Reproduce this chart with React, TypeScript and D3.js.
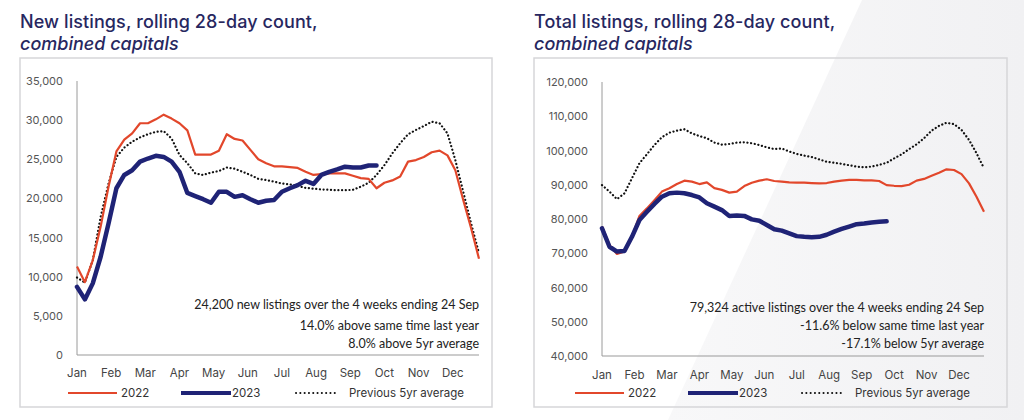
import React from "react";
import * as d3 from "d3";

const months = ["Jan","Feb","Mar","Apr","May","Jun","Jul","Aug","Sep","Oct","Nov","Dec"];

const newYTicks = [0, 5000, 10000, 15000, 20000, 25000, 30000, 35000];
const new2022 = [11300,9300,12100,16400,21500,26000,27500,28300,29600,29600,30100,30700,30200,29600,28700,25600,25600,25600,26100,28200,27600,27400,26200,25000,24500,24100,24100,24000,23900,23400,23000,23100,23200,23200,23200,22900,22600,22500,21300,22000,22300,22800,24700,24900,25300,25900,26100,25500,23600,19800,16200,12300];
const new2023 = [8700,7100,9150,12550,16800,21300,23000,23600,24700,25100,25450,25300,24700,23400,20700,20300,19900,19450,20850,20850,20200,20400,19900,19450,19700,19800,20850,21300,21700,22250,21850,23000,23400,23700,24050,23950,23950,24200,24200];
const new5yr = [9900,9250,12100,17650,21900,25300,26500,27250,27800,28200,28500,28600,27650,25550,24500,23200,23000,23300,23500,23950,23800,23400,23000,22500,22350,22150,21900,21800,21600,21350,21250,21150,21100,21050,21050,21100,21500,22000,23000,24250,25750,27050,28200,28750,29250,29800,29600,28300,24900,20850,16800,13000];

const totYTicks = [40000, 50000, 60000, 70000, 80000, 90000, 100000, 110000, 120000];
const tot2022 = [77800,72400,69800,70500,74800,80900,83100,85500,88000,89000,90200,91200,90900,90200,90700,89000,88500,87700,88000,89600,90600,91200,91600,91100,90900,90700,90600,90600,90500,90400,90500,90900,91200,91400,91400,91300,91300,91100,89900,89700,89600,90000,91200,91700,92600,93500,94500,94300,93100,90400,86500,82100];
const tot2023 = [77300,71900,70500,70650,74800,79700,82100,84400,86500,87500,87700,87500,87000,86300,84600,83600,82600,80900,81000,80900,79900,79500,78250,77000,76600,75800,75000,74800,74650,74800,75400,76300,77100,77800,78500,78700,79000,79200,79324];
const tot5yr = [89900,88000,85800,87500,91900,96300,98900,101600,103900,105200,105800,106200,105000,104200,103600,102300,101700,101900,102300,102400,102100,101600,100900,100400,100600,99700,99000,98500,98100,97400,96700,96400,96100,95700,95300,95100,95300,95800,96400,97700,98900,100400,101800,103600,105800,107200,108100,107700,106000,103100,99200,94800];

const legendLabels = ["2022", "2023", "Previous 5yr average"];

const RED = "#e2472b";
const NAVY = "#1f2376";
const TITLE = "#27275f";

type PanelCfg = {
  boxX: number; boxR: number;
  title1: string; title2: string;
  x0: number; x1: number; yTop: number; yBot: number;
  yTicks: number[]; s2022: number[]; s2023: number[]; s5yr: number[];
  notes: string[]; noteY: number[];
  monthY: number; legendX: number[];
};

function Panel({ c }: { c: PanelCfg }) {
  const x = d3.scaleLinear().domain([0, 51]).range([c.x0, c.x1]);
  const y = d3.scaleLinear().domain([c.yTicks[0], c.yTicks[c.yTicks.length - 1]]).range([c.yBot, c.yTop]);
  const line = d3.line<number>().x((_, i) => x(i)).y((v) => y(v));
  const fmt = d3.format(",");
  const lg = c.legendX;
  const ly = 393;
  return (
    <g>
      <text x={c.boxX} y={28} fontFamily="Inter, sans-serif" fontSize={18} fontWeight={500} letterSpacing={0.1} fill={TITLE}>{c.title1}</text>
      <text x={c.boxX} y={50} fontFamily="Inter, sans-serif" fontSize={18} fontWeight={500} fontStyle="italic" fill={TITLE}>{c.title2}</text>
      <rect x={c.boxX} y={58} width={c.boxR - c.boxX} height={349} fill="none" stroke="#d6d6d9" strokeWidth={1.5} />
      {c.yTicks.map((t) => (
        <text key={t} x={c.x0 - 14} y={y(t) + 4} textAnchor="end" fontFamily="Inter, sans-serif" fontSize={11} fill="#555">{fmt(t)}</text>
      ))}
      <line x1={c.x0} x2={c.x0} y1={c.yTop} y2={c.yBot} stroke="#9a9a9a" strokeWidth={1} />
      <line x1={c.x0} x2={c.x1} y1={c.yBot} y2={c.yBot} stroke="#9a9a9a" strokeWidth={1.2} />
      {months.map((m, i) => (
        <text key={m} x={x((i * 52) / 12)} y={c.monthY} textAnchor="middle" fontFamily="Inter, sans-serif" fontSize={11.5} fill="#444">{m}</text>
      ))}
      <path d={line(c.s5yr) || ""} fill="none" stroke="#111" strokeWidth={2.2} strokeDasharray="0.1 3.6" strokeLinecap="round" />
      <path d={line(c.s2022) || ""} fill="none" stroke={RED} strokeWidth={2.2} strokeLinejoin="round" />
      <path d={line(c.s2023) || ""} fill="none" stroke={NAVY} strokeWidth={4.5} strokeLinejoin="round" strokeLinecap="round" />
      {c.notes.map((n, i) => (
        <text key={i} x={c.x1} y={c.noteY[i]} textAnchor="end" fontFamily="Lato, sans-serif" fontSize={12.5} fill="#222">{n}</text>
      ))}
      <line x1={lg[0]} x2={lg[0] + 49} y1={ly} y2={ly} stroke={RED} strokeWidth={2} />
      <text x={lg[0] + 53} y={ly + 4} fontFamily="Inter, sans-serif" fontSize={11.5} fill="#333">{legendLabels[0]}</text>
      <line x1={lg[1]} x2={lg[1] + 50} y1={ly} y2={ly} stroke={NAVY} strokeWidth={4} />
      <text x={lg[1] + 51} y={ly + 4} fontFamily="Inter, sans-serif" fontSize={11.5} fill="#333">{legendLabels[1]}</text>
      <line x1={lg[2]} x2={lg[2] + 42} y1={ly} y2={ly} stroke="#111" strokeWidth={2} strokeDasharray="0.1 4.2" strokeLinecap="round" />
      <text x={lg[2] + 53} y={ly + 4} fontFamily="Inter, sans-serif" fontSize={11.5} fill="#333">{legendLabels[2]}</text>
    </g>
  );
}

export default function App() {
  const left: PanelCfg = {
    boxX: 20, boxR: 492,
    title1: "New listings, rolling 28-day count,", title2: "combined capitals",
    x0: 77, x1: 479, yTop: 81, yBot: 355,
    yTicks: newYTicks, s2022: new2022, s2023: new2023, s5yr: new5yr,
    notes: ["24,200 new listings over the 4 weeks ending 24 Sep", "14.0% above same time last year", "8.0% above 5yr average"],
    noteY: [309, 330, 348], monthY: 377, legendX: [68, 181, 296],
  };
  const right: PanelCfg = {
    boxX: 534, boxR: 1007,
    title1: "Total listings, rolling 28-day count,", title2: "combined capitals",
    x0: 602, x1: 984, yTop: 82, yBot: 356,
    yTicks: totYTicks, s2022: tot2022, s2023: tot2023, s5yr: tot5yr,
    notes: ["79,324 active listings over the 4 weeks ending 24 Sep", "-11.6% below same time last year", "-17.1% below 5yr average"],
    noteY: [312, 330, 348], monthY: 379, legendX: [575, 688, 802],
  };
  return (
    <svg width={1024} height={420} style={{ position: "absolute", left: 0, top: 0, background: "#fff" }}>
      <defs>
        <linearGradient id="bg" x1="0" y1="0" x2="1" y2="0">
          <stop offset="0" stopColor="#f8f8f9" />
          <stop offset="1" stopColor="#f1f1f3" />
        </linearGradient>
      </defs>
      <polygon points="862,0 1024,0 1024,420 668,420" fill="url(#bg)" />
      <Panel c={left} />
      <Panel c={right} />
    </svg>
  );
}
